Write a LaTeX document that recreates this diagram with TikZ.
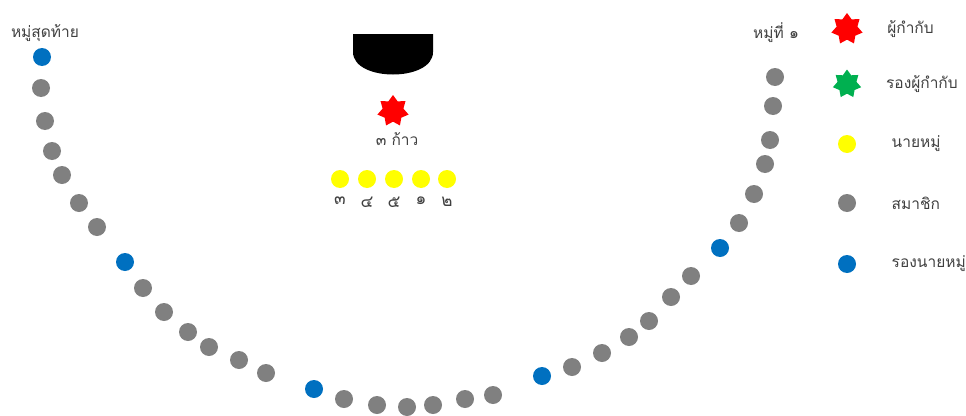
\documentclass[tikz,border=0pt]{standalone}
\usepackage{fontspec}
\newfontfamily\thaifont[Script=Thai]{Loma}
\usepackage{tikz}
\usetikzlibrary{positioning,shapes.geometric}
\definecolor{dotblue}{HTML}{0070C0}
\definecolor{dotgray}{HTML}{808080}
\definecolor{dotyellow}{HTML}{FFFF00}
\definecolor{stargreen}{HTML}{00B050}
\definecolor{txtgray}{HTML}{404040}

\begin{document}
\begin{tikzpicture}[x=1pt, y=-1pt, every node/.style={font=\thaifont\fontsize{15.5}{18}\selectfont, text=txtgray},
 dot/.style={circle, minimum size=18pt, inner sep=0pt}, mb/.style={dot, fill=dotblue}, mg/.style={dot, fill=dotgray},
 leader/.style={star, star points=7, star point ratio=1.5, minimum size=32pt, inner sep=0pt},
 num/.style={font=\thaifont\fontsize{17}{19}\selectfont}]
\useasboundingbox (0,0) rectangle (966,415);
\fill (353,34) -- (433,34) -- (433,52) .. controls (433,82) and (353,82) .. (353,52) -- cycle;
\node[leader, fill=red] (chief) at (393,111) {};
\node[below right=10pt and -29pt of chief] (steps) {๓ ก้าว};
\foreach \x/\n [count=\i] in {340/๓, 367/๔, 394/๕, 421/๑, 447/๒} {
  \node[dot, fill=dotyellow] (pl\i) at (\x,179) {};
  \node[num, below=5pt of pl\i] (pn\i) {\n};
}
\foreach \x/\y/\c [count=\i] in {42/57/mb, 41/88/mg, 45/121/mg, 52/151/mg, 62/175/mg, 79/203/mg, 97/227/mg,
  125/262/mb, 143/288/mg, 164/312/mg, 188/332/mg, 209/347/mg, 239/360/mg, 266/373/mg,
  314/389/mb, 344/399/mg, 377/405/mg, 407/407/mg, 433/405/mg, 465/399/mg, 493/395/mg,
  542/376/mb, 572/367/mg, 602/353/mg, 629/337/mg, 649/321/mg, 671/297/mg, 691/276/mg,
  720/248/mb, 739/223/mg, 754/194/mg, 765/164/mg, 770/140/mg, 773/106/mg, 775/77/mg}
  \node[\c] (m\i) at (\x,\y) {};
\node (tlast) at (45,33) {หมู่สุดท้าย};
\node (tfirst) at (776,33) {หมู่ที่ ๑};
\node[leader, fill=red] (kchief) at (847,29) {};
\node[leader, fill=stargreen, minimum size=29pt] (kdep) at (847,84) {};
\node[dot, fill=dotyellow] (kpl) at (847,144) {};
\node[mg] (kmem) at (847,203) {};
\node[mb] (kapl) at (847,264) {};
\node[right=24pt of kchief] (tchief) {ผู้กำกับ};
\node[right=24pt of kdep] (tdep) {รองผู้กำกับ};
\node[right=32pt of kpl] (tpl) {นายหมู่};
\node[right=32pt of kmem] (tmem) {สมาชิก};
\node[right=32pt of kapl] (tapl) {รองนายหมู่};
\end{tikzpicture}
\end{document}
